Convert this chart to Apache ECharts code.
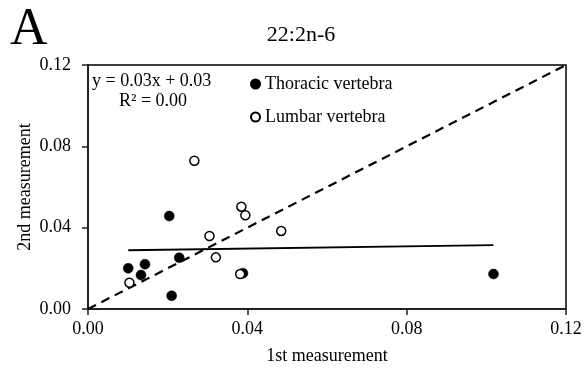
<!DOCTYPE html>
<html>
<head>
<meta charset="UTF-8">
<script src="https://cdn.jsdelivr.net/npm/echarts@6/dist/echarts.min.js"></script>
<style>
html, body { margin: 0; padding: 0; background: #fff; }
#chart_div { width: 585px; height: 371px; }
</style>
</head>
<body>
<div id="chart_div"></div>
<script type="text/javascript">
// data
var thoracicX = [0.0101, 0.0143, 0.0133, 0.0204, 0.0229, 0.0210, 0.0389, 0.1018];
var thoracicY = [0.0200, 0.0220, 0.0167, 0.0457, 0.0252, 0.0065, 0.0176, 0.0172];
var lumbarX = [0.0104, 0.0267, 0.0385, 0.0395, 0.0305, 0.0321, 0.0485, 0.0382];
var lumbarY = [0.0129, 0.0729, 0.0503, 0.0461, 0.0359, 0.0254, 0.0384, 0.0172];
var trendX = [0.0101, 0.1018];
var trendY = [0.0289, 0.0314];
var refX = [0, 0.12];
var refY = [0, 0.12];

var font = '"Liberation Serif", "Times New Roman", serif';

function pairs(xs, ys) {
	return xs.map(function(x, i) { return [x, ys[i]]; });
}

var myChart = echarts.init(document.getElementById('chart_div'));

var option = {
	animation: false,
	textStyle: {fontFamily: font, color: '#000'},
	title: [{
		text: 'A',
		left: 5, top: -1,
		textStyle: {fontFamily: font, fontSize: 52, fontWeight: 'normal', color: '#000'}
	}, {
		text: '22:2n-6',
		left: 296, top: 19, textAlign: 'center',
		textStyle: {fontFamily: font, fontSize: 22, fontWeight: 'normal', color: '#000'}
	}],
	grid: {
		left: 88, right: 19, top: 65, bottom: 62,
		show: true, borderColor: '#000', borderWidth: 1.5
	},
	legend: {
		orient: 'vertical',
		left: 245, top: 70,
		itemGap: 15,
		itemWidth: 9, itemHeight: 9,
		textStyle: {fontFamily: font, fontSize: 18, color: '#000'},
		data: [{name: 'Thoracic vertebra', icon: 'circle'}, {name: 'Lumbar vertebra', icon: 'circle'}]
	},
	xAxis: {
		type: 'value', min: 0, max: 0.12, interval: 0.04,
		name: '1st measurement', nameLocation: 'middle', nameGap: 38,
		nameTextStyle: {fontFamily: font, fontSize: 18, color: '#000'},
		axisLine: {lineStyle: {color: '#222', width: 2}},
		axisTick: {show: true, inside: false, length: 6, lineStyle: {color: '#222', width: 1.5}},
		axisLabel: {fontFamily: font, fontSize: 18, color: '#000', margin: 11,
			formatter: function(v) { return v.toFixed(2); }},
		splitLine: {show: false}
	},
	yAxis: {
		type: 'value', min: 0, max: 0.12, interval: 0.04,
		name: '2nd measurement', nameLocation: 'middle', nameGap: 54,
		nameMoveOverlap: false,
		nameTextStyle: {fontFamily: font, fontSize: 18, color: '#000'},
		axisLine: {lineStyle: {color: '#222', width: 2}},
		axisTick: {show: true, inside: false, length: 6, lineStyle: {color: '#222', width: 1.5}},
		axisLabel: {fontFamily: font, fontSize: 18, color: '#000', margin: 17,
			formatter: function(v) { return v.toFixed(2); }},
		splitLine: {show: false}
	},
	graphic: [{
		type: 'text', left: 92, top: 72,
		style: {text: 'y = 0.03x + 0.03', fontFamily: font, fontSize: 18, fill: '#000'}
	}, {
		type: 'text', left: 119, top: 92,
		style: {text: 'R\u00b2 = 0.00', fontFamily: font, fontSize: 18, fill: '#000'}
	}],
	series: [{
		name: 'y=x',
		type: 'line',
		data: pairs(refX, refY),
		symbol: 'none',
		lineStyle: {color: '#000', width: 2.2, type: [9, 6]},
		z: 1
	}, {
		name: 'trend',
		type: 'line',
		data: pairs(trendX, trendY),
		symbol: 'none',
		lineStyle: {color: '#000', width: 1.8},
		z: 1
	}, {
		name: 'Thoracic vertebra',
		type: 'scatter',
		data: pairs(thoracicX, thoracicY),
		symbol: 'circle', symbolSize: 10,
		itemStyle: {color: '#000', borderColor: '#000', borderWidth: 0.5, opacity: 1},
		z: 3
	}, {
		name: 'Lumbar vertebra',
		type: 'scatter',
		data: pairs(lumbarX, lumbarY),
		symbol: 'circle', symbolSize: 9,
		itemStyle: {color: '#fff', borderColor: '#000', borderWidth: 1.5, opacity: 1},
		z: 4
	}]
};

myChart.setOption(option);
</script>
</body>
</html>
